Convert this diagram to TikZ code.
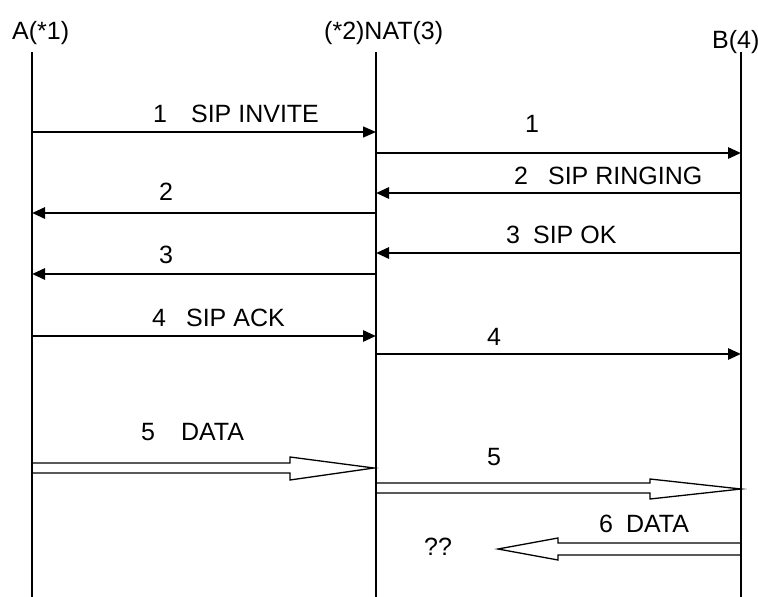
\documentclass[tikz,border=0pt]{standalone}
\usepackage{fontspec}
\setmainfont{Liberation Sans}
\usetikzlibrary{arrows.meta}
\begin{document}
\begin{tikzpicture}[x=1pt,y=-1pt,
  lbl/.style={anchor=base west, inner sep=0pt, font=\fontsize{25}{25}\selectfont},
  lifeline/.style={line width=1.5pt},
  msg/.style={line width=2.7pt, -{Triangle[length=13pt,width=11pt]}},
  thinmsg/.style={line width=1.4pt, -{Triangle[length=13pt,width=11pt]}},
  bigarrow/.style={line width=1.3pt, line join=miter}]
\useasboundingbox (0,0) rectangle (758,597);

% participants
\node[lbl] (tA) at (12,39) {A(*1)};
\node[lbl] (tN) at (324,39) {(*2)NAT(3)};
\node[lbl] (tB) at (712,48) {B(4)};

% lifelines
\coordinate (laT) at (32,52);  \coordinate (laB) at (32,597);
\coordinate (lnT) at (376,52); \coordinate (lnB) at (376,597);
\coordinate (lbT) at (741,52); \coordinate (lbB) at (741,597);
\draw[lifeline] (laT) -- (laB);
\draw[lifeline] (lnT) -- (lnB);
\draw[lifeline] (lbT) -- (lbB);

% signalling messages
\draw[thinmsg] (laT |- 0,132) -- (lnT |- 0,132);
\node[lbl] (l1) at (153,122) {1\hspace{24pt}SIP INVITE};

\draw[msg] (lnT |- 0,153) -- (lbT |- 0,153);
\node[lbl] (l1b) at (525,132) {1};

\draw[msg] (lbT |- 0,193) -- (lnT |- 0,193);
\node[lbl] (l2) at (514,184) {2\hspace{20pt}SIP RINGING};

\draw[msg] (lnT |- 0,213) -- (laT |- 0,213);
\node[lbl] (l2b) at (159,200) {2};

\draw[msg] (lbT |- 0,253) -- (lnT |- 0,253);
\node[lbl] (l3) at (506,243) {3\hspace{13pt}SIP OK};

\draw[msg] (lnT |- 0,274) -- (laT |- 0,274);
\node[lbl] (l3b) at (159,263) {3};

\draw[msg] (laT |- 0,336) -- (lnT |- 0,336);
\node[lbl] (l4) at (152,326) {4\hspace{20pt}SIP ACK};

\draw[msg] (lnT |- 0,354) -- (lbT |- 0,354);
\node[lbl] (l4b) at (487,345) {4};

% data transfer (hollow block arrows)
\draw[bigarrow] (laT |- 0,463) -- (290,463) -- (290,457) -- (374,468)
  -- (290,480) -- (290,473) -- (laT |- 0,473);
\node[lbl] (l5) at (141,440) {5\hspace{26pt}DATA};

\draw[bigarrow] (lnT |- 0,483) -- (650,483) -- (650,479) -- (lbT |- 0,489)
  -- (650,499) -- (650,493) -- (lnT |- 0,493);
\node[lbl] (l5b) at (487,465) {5};

\coordinate (lost) at (498,549);
\draw[bigarrow] (lbT |- 0,543) -- (558,543) -- (558,538) -- (lost)
  -- (558,560) -- (558,555) -- (lbT |- 0,555);
\node[lbl] (l6) at (599,532) {6\hspace{13pt}DATA};
\node[lbl] (q) at (424,555) {??};
\end{tikzpicture}
\end{document}
